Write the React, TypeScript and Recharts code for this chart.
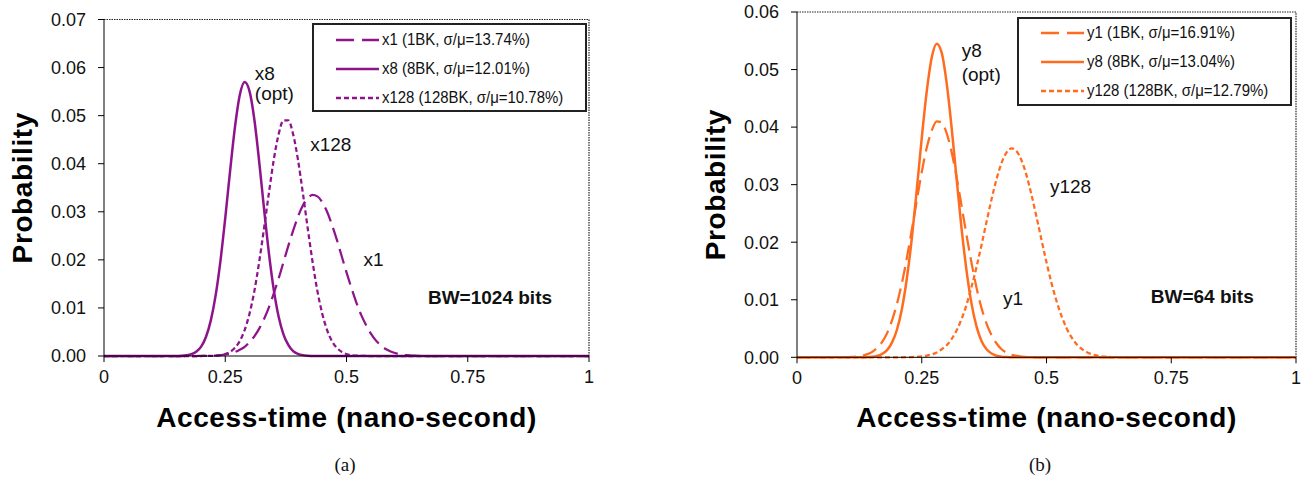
import { LineChart, Line, XAxis, YAxis, Legend, ReferenceLine, ReferenceDot } from 'recharts';

// access-time grid (ns), shared by both panels
const accessTime = [
  0,
  0.10, 0.11, 0.12, 0.13, 0.14, 0.15, 0.16, 0.17, 0.18, 0.19,
  0.20, 0.21, 0.22, 0.23, 0.24, 0.25, 0.26, 0.27, 0.28, 0.29,
  0.30, 0.31, 0.32, 0.33, 0.34, 0.35, 0.36, 0.37, 0.38, 0.39,
  0.40, 0.41, 0.42, 0.43, 0.44, 0.45, 0.46, 0.47, 0.48, 0.49,
  0.50, 0.51, 0.52, 0.53, 0.54, 0.55, 0.56, 0.57, 0.58, 0.59,
  0.60, 0.61, 0.62, 0.63, 0.64, 0.65, 0.66, 0.67, 0.68,
  1,
];

// (a) BW=1024 bits
const x1Prob = [
  0,
  0, 0, 0, 0, 0, 0, 0, 0, 0, 0,
  0.00002, 0.00003, 0.00006, 0.0001, 0.00018, 0.00031, 0.00051, 0.00082, 0.0013, 0.0019,
  0.0029, 0.0041, 0.0057, 0.0077, 0.0101, 0.013, 0.0161, 0.0195, 0.0229, 0.0261,
  0.029, 0.0313, 0.0328, 0.0335, 0.0332, 0.032, 0.03, 0.0273, 0.0242, 0.0208,
  0.0174, 0.0142, 0.0112, 0.0086, 0.0065, 0.0047, 0.0033, 0.0023, 0.0015, 0.001,
  0.00062, 0.00038, 0.00023, 0.00013, 0.00007, 0.00004, 0, 0, 0,
  0,
];
const x8Prob = [
  0,
  0, 0, 0, 0, 0, 0.00002, 0.00005, 0.00015, 0.00037, 0.00089,
  0.0019, 0.0039, 0.0073, 0.0125, 0.0197, 0.0287, 0.0385, 0.0476, 0.0543, 0.057,
  0.0551, 0.0492, 0.0404, 0.0306, 0.0214, 0.0138, 0.0082, 0.0045, 0.0023, 0.001,
  0.00045, 0.00018, 0.00006, 0, 0, 0, 0, 0, 0, 0,
  0, 0, 0, 0, 0, 0, 0, 0, 0, 0,
  0, 0, 0, 0, 0, 0, 0, 0, 0,
  0,
];
const x128Prob = [
  0,
  0, 0, 0, 0, 0, 0, 0, 0, 0, 0,
  0, 0.00001, 0.00003, 0.00008, 0.00019, 0.00041, 0.00086, 0.0017, 0.0031, 0.0054,
  0.0088, 0.0135, 0.0196, 0.0266, 0.0339, 0.0408, 0.0461, 0.049, 0.049, 0.0461,
  0.0408, 0.0339, 0.0266, 0.0196, 0.0135, 0.0088, 0.0054, 0.0031, 0.0017, 0.00086,
  0.00041, 0.00019, 0.00008, 0.00003, 0, 0, 0, 0, 0, 0,
  0, 0, 0, 0, 0, 0, 0, 0, 0,
  0,
];

// (b) BW=64 bits
const y1Prob = [
  0,
  0.00003, 0.00007, 0.00014, 0.00027, 0.0005, 0.0009, 0.0016, 0.0026, 0.0041, 0.0063,
  0.0092, 0.0128, 0.0172, 0.0221, 0.0272, 0.0322, 0.0364, 0.0394, 0.041, 0.0408,
  0.0389, 0.0356, 0.0312, 0.0262, 0.0211, 0.0163, 0.012, 0.0085, 0.0058, 0.0038,
  0.0024, 0.0014, 0.0008, 0.00044, 0.00023, 0.00012, 0.00006, 0, 0, 0,
  0, 0, 0, 0, 0, 0, 0, 0, 0, 0,
  0, 0, 0, 0, 0, 0, 0, 0, 0,
  0,
];
const y8Prob = [
  0,
  0, 0, 0, 0.00001, 0.00003, 0.00009, 0.00023, 0.00055, 0.0012, 0.0025,
  0.0047, 0.0083, 0.0136, 0.0206, 0.0291, 0.0381, 0.0462, 0.0521, 0.0545, 0.0529,
  0.0476, 0.0398, 0.0309, 0.0222, 0.0149, 0.0092, 0.0053, 0.0028, 0.0014, 0.00065,
  0.00028, 0.00011, 0.00004, 0, 0, 0, 0, 0, 0, 0,
  0, 0, 0, 0, 0, 0, 0, 0, 0, 0,
  0, 0, 0, 0, 0, 0, 0, 0, 0,
  0,
];
const y128Prob = [
  0,
  0, 0, 0, 0, 0, 0, 0, 0, 0, 0,
  0, 0, 0.00002, 0.00005, 0.00009, 0.00016, 0.00029, 0.0005, 0.00084, 0.0014,
  0.0021, 0.0032, 0.0047, 0.0067, 0.0092, 0.0123, 0.0158, 0.0196, 0.0236, 0.0275,
  0.031, 0.0338, 0.0356, 0.0363, 0.0358, 0.0342, 0.0316, 0.0282, 0.0244, 0.0204,
  0.0165, 0.0129, 0.0098, 0.0072, 0.0051, 0.0035, 0.0023, 0.0015, 0.00093, 0.00056,
  0.00032, 0.00018, 0.0001, 0.00005, 0, 0, 0, 0, 0,
  0,
];

const xTicks = [0, 0.25, 0.5, 0.75, 1];
const yTicksA = [0, 0.01, 0.02, 0.03, 0.04, 0.05, 0.06, 0.07];
const yTicksB = [0, 0.01, 0.02, 0.03, 0.04, 0.05, 0.06];

const PURPLE = '#8e148c';
const ORANGE = '#ff6c1f';
const SANS = '"Liberation Sans", Arial, Helvetica, sans-serif';

const LONG_DASH = '15 7';
const SHORT_DASH = '5 3';

type Series = { key: string; name: string; values: number[]; dash?: string; legendDash?: string };
type Note = { text: string; x: number; y: number; bold?: boolean };

const seriesA: Series[] = [
  { key: 'x1', name: 'x1 (1BK, σ/μ=13.74%)', values: x1Prob, dash: LONG_DASH, legendDash: '18 8' },
  { key: 'x8', name: 'x8 (8BK, σ/μ=12.01%)', values: x8Prob },
  { key: 'x128', name: 'x128 (128BK, σ/μ=10.78%)', values: x128Prob, dash: SHORT_DASH, legendDash: SHORT_DASH },
];
const seriesB: Series[] = [
  { key: 'y1', name: 'y1 (1BK, σ/μ=16.91%)', values: y1Prob, dash: LONG_DASH, legendDash: '18 8' },
  { key: 'y8', name: 'y8 (8BK, σ/μ=13.04%)', values: y8Prob },
  { key: 'y128', name: 'y128 (128BK, σ/μ=12.79%)', values: y128Prob, dash: SHORT_DASH, legendDash: SHORT_DASH },
];

const notesA: Note[] = [
  { text: 'x8', x: 0.311, y: 0.0589 },
  { text: '(opt)', x: 0.311, y: 0.0546 },
  { text: 'x128', x: 0.425, y: 0.044 },
  { text: 'x1', x: 0.535, y: 0.0201 },
  { text: 'BW=1024 bits', x: 0.668, y: 0.0123, bold: true },
];
const notesB: Note[] = [
  { text: 'y8', x: 0.33, y: 0.0533 },
  { text: '(opt)', x: 0.33, y: 0.0492 },
  { text: 'y128', x: 0.507, y: 0.0298 },
  { text: 'y1', x: 0.413, y: 0.0103 },
  { text: 'BW=64 bits', x: 0.709, y: 0.0106, bold: true },
];

function buildRows(series: Series[]) {
  return accessTime.map((t, i) => {
    const row: Record<string, number> = { t };
    series.forEach((s) => { row[s.key] = s.values[i]; });
    return row;
  });
}

function YTitle(props: any) {
  const { x, y, height } = props.viewBox;
  const cx = x + 32;
  const cy = y + height / 2;
  return (
    <text x={cx} y={cy} transform={`rotate(-90, ${cx}, ${cy})`} textAnchor="middle"
      fontSize={28} fontWeight={700} letterSpacing={0.6} fill="#000">
      Probability
    </text>
  );
}

function XTitle(props: any) {
  const { x, y, width, height } = props.viewBox;
  return (
    <text x={x + width / 2} y={y + height - 13} textAnchor="middle"
      fontSize={28} fontWeight={700} letterSpacing={0.6} fill="#000">
      Access-time (nano-second)
    </text>
  );
}

type PanelProps = {
  series: Series[];
  color: string;
  yMax: number;
  yTicks: number[];
  notes: Note[];
  width: number;
  top: number;
  xAxisHeight: number;
  legendPos: { left: number; top: number };
};

function Panel({ series, color, yMax, yTicks, notes, width, top, xAxisHeight, legendPos }: PanelProps) {
  const rows = buildRows(series);

  const renderLegend = () => (
    <div style={{ border: '2px solid #222', background: '#fff', width: 271, height: 85, boxSizing: 'content-box' }}>
      {series.map((s) => (
        <div key={s.key} style={{ height: 29, display: 'flex', alignItems: 'center', paddingLeft: 22 }}>
          <svg width={43} height={6} style={{ flex: 'none' }}>
            <line x1={0} y1={3} x2={43} y2={3} stroke={color} strokeWidth={2.5} strokeDasharray={s.legendDash} />
          </svg>
          <span style={{
            display: 'inline-block', marginLeft: 3, fontSize: 17, color: '#111', whiteSpace: 'nowrap',
            transform: 'scaleX(0.88)', transformOrigin: 'left center',
          }}>
            {s.name}
          </span>
        </div>
      ))}
    </div>
  );

  return (
    <LineChart width={width} height={440} data={rows} margin={{ top, right: 11, bottom: 0, left: 0 }}>
      <XAxis
        type="number" dataKey="t" domain={[0, 1]} ticks={xTicks} height={xAxisHeight}
        tickSize={6} tickMargin={8}
        axisLine={{ stroke: '#000' }} tickLine={{ stroke: '#000' }}
        tick={{ fill: '#111', fontSize: 18 }}
        label={{ content: XTitle }}
      />
      <YAxis
        domain={[0, yMax]} ticks={yTicks} width={104}
        tickSize={6} tickMargin={12}
        tickFormatter={(v: number) => v.toFixed(2)}
        axisLine={{ stroke: '#000' }} tickLine={{ stroke: '#000' }}
        tick={{ fill: '#111', fontSize: 18 }}
        label={{ content: YTitle }}
      />
      {/* dotted frame on the top and right of the plot area */}
      <ReferenceLine y={yMax} stroke="#222" strokeWidth={1.2} strokeDasharray="1.5 1" />
      <ReferenceLine x={1} stroke="#222" strokeWidth={1.2} strokeDasharray="1.5 1" />
      {series.map((s) => (
        <Line
          key={s.key} dataKey={s.key} name={s.name} type="monotone"
          stroke={color} strokeWidth={s.dash ? 2.25 : 2.5} strokeDasharray={s.dash}
          dot={false} activeDot={false} isAnimationActive={false}
        />
      ))}
      {notes.map((n) => (
        <ReferenceDot
          key={n.text} x={n.x} y={n.y} r={0} fill="none" stroke="none"
          label={{
            value: n.text, position: 'right', offset: 0, fill: '#111',
            fontSize: 19, fontWeight: n.bold ? 700 : 400,
          }}
        />
      ))}
      <Legend
        layout="vertical" align="center" verticalAlign="middle"
        wrapperStyle={{ left: legendPos.left, top: legendPos.top, width: 275 }}
        content={renderLegend}
      />
    </LineChart>
  );
}

const captionStyle: React.CSSProperties = {
  position: 'absolute', top: 454, width: 60, textAlign: 'center',
  fontFamily: '"Liberation Serif", "Times New Roman", serif', fontSize: 19, color: '#111',
};

export default function App() {
  return (
    <div style={{ position: 'absolute', left: 0, top: 0, width: 1307, height: 479, background: '#fff', fontFamily: SANS, overflow: 'hidden' }}>
      <div style={{ position: 'absolute', left: 0, top: 0 }}>
        <Panel series={seriesA} color={PURPLE} yMax={0.07} yTicks={yTicksA} notes={notesA}
          width={600} top={19.5} xAxisHeight={84} legendPos={{ left: 311.7, top: 23.3 }} />
      </div>
      <div style={{ position: 'absolute', left: 693, top: 0 }}>
        <Panel series={seriesB} color={ORANGE} yMax={0.06} yTicks={yTicksB} notes={notesB}
          width={614} top={12} xAxisHeight={82.7} legendPos={{ left: 323.7, top: 16.7 }} />
      </div>
      <div style={{ ...captionStyle, left: 315 }}>(a)</div>
      <div style={{ ...captionStyle, left: 1010 }}>(b)</div>
    </div>
  );
}
